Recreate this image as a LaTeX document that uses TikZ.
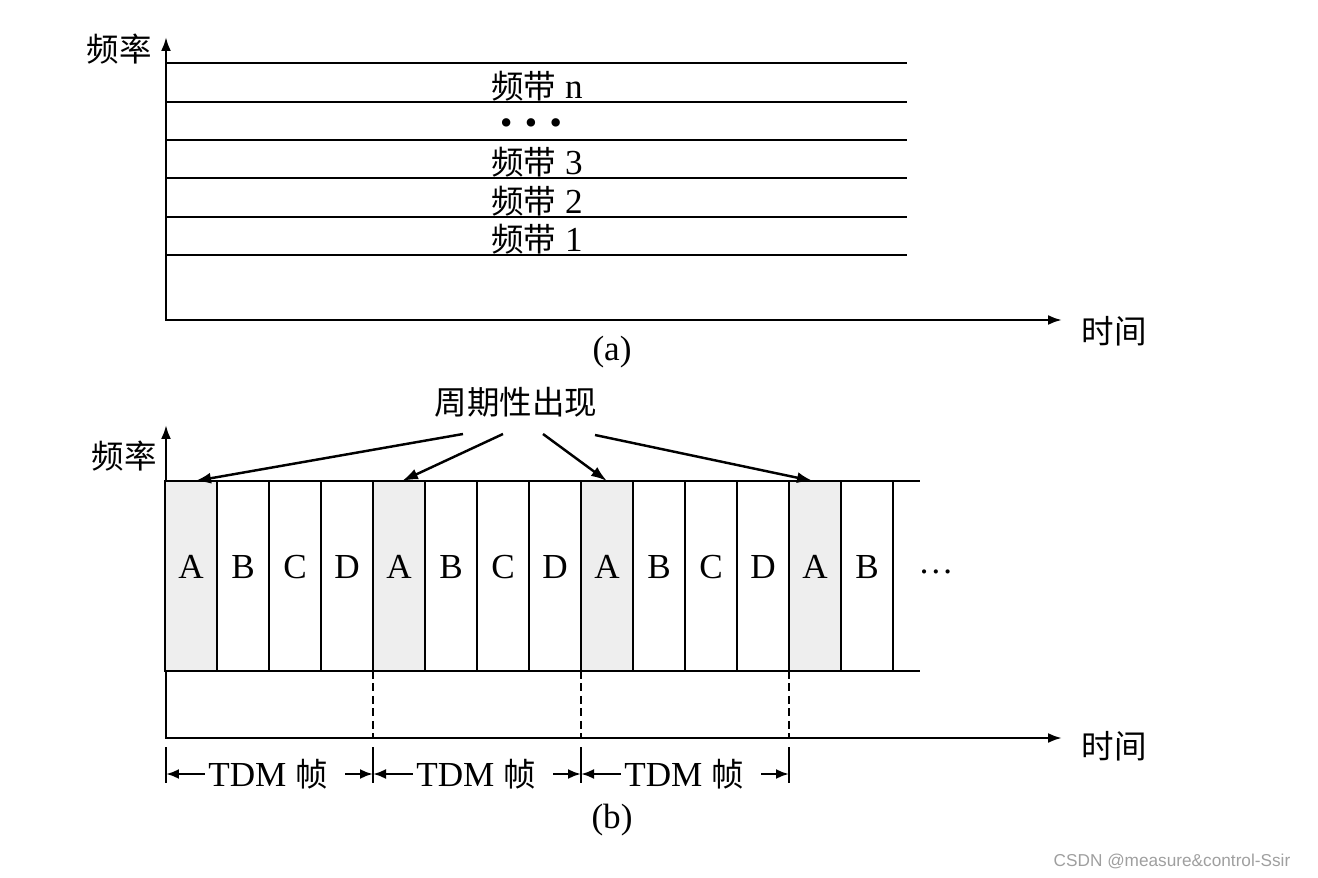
\documentclass[tikz,border=0pt]{standalone}
\usepackage{fontspec}
\setmainfont{Liberation Serif}
\newfontfamily\cjk{Noto Sans CJK SC}
\newfontfamily\marksans{Liberation Sans}
\usetikzlibrary{arrows.meta, positioning}
\newcommand{\zh}[1]{{\fontsize{18.5}{22}\selectfont\cjk #1}}
\tikzset{
    axes/.style={{Latex[length=2.8mm, width=2mm]}-{Latex[length=2.8mm, width=2mm]}, line width=1.4pt},
    bandline/.style={line width=1.4pt},
    slot/.style={rectangle, draw, line width=1.4pt, minimum width=1.04cm, minimum height=3.8cm, inner sep=0pt, outer sep=0pt, text depth=0.36cm},
    slotA/.style={slot, fill=gray!13},
    arrow/.style={-{Latex[length=3.2mm, width=2.2mm]}, line width=1.4pt},
    framearrow/.style={-{Latex[length=2.6mm, width=2mm]}, line width=1.4pt},
    divline/.style={line width=1.4pt, dash pattern=on 1.6mm off 0.9mm},
    tick/.style={line width=1.4pt},
}

\begin{document}
\begin{tikzpicture}[x=0.02cm, y=-0.02cm, font=\fontsize{20}{24}\selectfont]
    \useasboundingbox (0,0) rectangle (1318,878);
    % (a)
    \coordinate (oa) at (166,320);
    \coordinate (ya) at (166,37);
    \coordinate (xa) at (1062,320);
    \draw[axes] (ya) -- (oa) -- (xa);
    \node (fa) at (119,49) {\zh{频率}};
    \node (ta) at (1114,331) {\zh{时间}};
    \draw[bandline] (166,63) -- (907,63);
    \draw[bandline] (166,102) -- (907,102);
    \draw[bandline] (166,140) -- (907,140);
    \draw[bandline] (166,178) -- (907,178);
    \draw[bandline] (166,217) -- (907,217);
    \draw[bandline] (166,255) -- (907,255);
    \node (bandn) at (537,86) {\zh{频带} n};
    \node (banddots) at (531,127) {\textbullet\hspace{0.25cm}\textbullet\hspace{0.25cm}\textbullet};
    \node (band3) at (537,162) {\zh{频带} 3};
    \node (band2) at (537,201) {\zh{频带} 2};
    \node (band1) at (537,239) {\zh{频带} 1};
    \node (capa) at (612,352) {(a)};
    % (b)
    \coordinate (ob) at (166,738);
    \coordinate (yb) at (166,425);
    \coordinate (xb) at (1062,738);
    \draw[axes] (yb) -- (ob) -- (xb);
    \node (fb) at (124,456) {\zh{频率}};
    \node (tb) at (1114,746) {\zh{时间}};
    \node[slotA] (a1) at (191,576) {A};
    \node[slot]  (b1) at (243,576) {B};
    \node[slot]  (c1) at (295,576) {C};
    \node[slot]  (d1) at (347,576) {D};
    \node[slotA] (a2) at (399,576) {A};
    \node[slot]  (b2) at (451,576) {B};
    \node[slot]  (c2) at (503,576) {C};
    \node[slot]  (d2) at (555,576) {D};
    \node[slotA] (a3) at (607,576) {A};
    \node[slot]  (b3) at (659,576) {B};
    \node[slot]  (c3) at (711,576) {C};
    \node[slot]  (d3) at (763,576) {D};
    \node[slotA] (a4) at (815,576) {A};
    \node[slot]  (b4) at (867,576) {B};
    \draw[bandline] (b4.north east) -- ++(27,0);
    \draw[bandline] (b4.south east) -- ++(27,0);
    \node (more) at (936,572) {\dots};
    \node (periodic) at (516,402) {\zh{周期性出现}};
    \draw[arrow] ([shift={(-53,32)}]periodic.center) -- ([xshift=0.08cm]a1.north);
    \draw[arrow] ([shift={(-13,32)}]periodic.center) -- ([xshift=0.06cm]a2.north);
    \draw[arrow] ([shift={(27,32)}]periodic.center) -- (a3.north);
    \draw[arrow] ([shift={(79,33)}]periodic.center) -- ([xshift=-0.04cm]a4.north);
    \draw[divline] (a2.south west) -- (a2.south west |- ob);
    \draw[divline] (a3.south west) -- (a3.south west |- ob);
    \draw[divline] (a4.south west) -- (a4.south west |- ob);
    \coordinate (t0) at (166,774);
    \coordinate (t1) at (373,774);
    \coordinate (t2) at (581,774);
    \coordinate (t3) at (789,774);
    \draw[tick] ([yshift=0.54cm]t0) -- ([yshift=-0.18cm]t0);
    \draw[tick] ([yshift=0.54cm]t1) -- ([yshift=-0.18cm]t1);
    \draw[tick] ([yshift=0.54cm]t2) -- ([yshift=-0.18cm]t2);
    \draw[tick] ([yshift=0.54cm]t3) -- ([yshift=-0.18cm]t3);
    \node[inner sep=0pt] (frame1) at (268,774) {TDM \zh{帧}};
    \node[inner sep=0pt] (frame2) at (476,774) {TDM \zh{帧}};
    \node[inner sep=0pt] (frame3) at (684,774) {TDM \zh{帧}};
    \draw[framearrow] ([xshift=-0.06cm]frame1.west) -- (t0);
    \draw[framearrow] ([xshift=0.34cm]frame1.east) -- (t1);
    \draw[framearrow] ([xshift=-0.06cm]frame2.west) -- (t1);
    \draw[framearrow] ([xshift=0.34cm]frame2.east) -- (t2);
    \draw[framearrow] ([xshift=-0.06cm]frame3.west) -- (t2);
    \draw[framearrow] ([xshift=0.34cm]frame3.east) -- (t3);
    \node (capb) at (612,820) {(b)};
    \node[text=gray!75, font=\fontsize{9.8}{12}\selectfont\marksans] (mark) at (1172,861) {CSDN @measure\&control-Ssir};
\end{tikzpicture}
\end{document}
